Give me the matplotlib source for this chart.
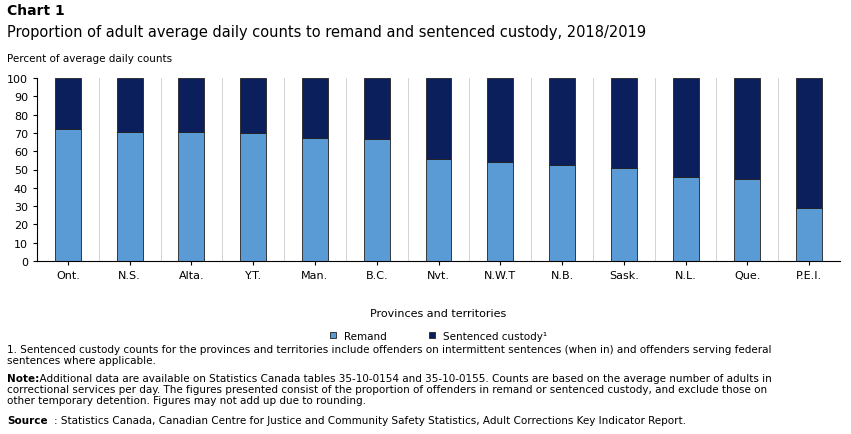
import matplotlib.pyplot as plt
import numpy as np

provinces = ["Ont.", "N.S.", "Alta.", "Y.T.", "Man.", "B.C.", "Nvt.", "N.W.T", "N.B.", "Sask.", "N.L.", "Que.", "P.E.I."]
remand = [72, 70.5, 70.5, 70, 67, 66.7, 56, 54, 52.5, 51, 46, 45, 29]
sentenced = [100 - r for r in remand]
yticks = list(range(0, 101, 10))

plt.rcParams["font.family"] = ["Verdana", "DejaVu Sans"]
fig = plt.figure(figsize=(8.51, 4.35), dpi=100)
ax = fig.add_axes([37 / 851, 1 - 262 / 435, 803 / 851, 183 / 435])

x = np.arange(len(provinces))
ax.bar(x, remand, width=0.42, color="#5b9bd5", edgecolor="#222222", linewidth=0.6, label="Remand")
ax.bar(x, sentenced, bottom=remand, width=0.42, color="#0b1f5c", edgecolor="#222222",
       linewidth=0.6, label="Sentenced custody\u00b9")

ax.set_xlim(-0.5, len(provinces) - 0.5)
ax.set_ylim(0, 100)
ax.set_yticks(yticks)
ax.set_xticks(x)
ax.set_xticklabels(provinces)
ax.tick_params(labelsize=8, length=3)
for xv in np.arange(-0.5, len(provinces), 1):
    ax.axvline(xv, color="#cccccc", linewidth=0.6, zorder=0)
for s in ["top", "right"]:
    ax.spines[s].set_visible(False)
ax.set_xlabel("Provinces and territories", fontsize=8, labelpad=20)

fig.text(0.008, 0.965, "Chart 1", fontsize=10, weight="bold")
fig.text(0.008, 0.915, "Proportion of adult average daily counts to remand and sentenced custody, 2018/2019", fontsize=10.5)
fig.text(0.008, 0.858, "Percent of average daily counts", fontsize=7.5)

ax.legend(loc="upper center", bbox_to_anchor=(0.5, -0.33), ncol=2, frameon=False, fontsize=7.5,
          handlelength=0.6, handleheight=0.6, columnspacing=4)

def top(py):
    return 1 - py / 435

fig.text(0.008, top(345), "1. Sentenced custody counts for the provinces and territories include offenders on intermittent sentences (when in) and offenders serving federal\n"
         "sentences where applicable.", fontsize=7.5, va="top", linespacing=1.15)
fig.text(0.008, top(374), "Note:", fontsize=7.5, weight="bold", va="top")
fig.text(0.008, top(374), "          Additional data are available on Statistics Canada tables 35-10-0154 and 35-10-0155. Counts are based on the average number of adults in\n"
         "correctional services per day. The figures presented consist of the proportion of offenders in remand or sentenced custody, and exclude those on\n"
         "other temporary detention. Figures may not add up due to rounding.", fontsize=7.5, va="top", linespacing=1.15)
fig.text(0.008, top(416), "Source", fontsize=7.5, weight="bold", va="top")
fig.text(0.063, top(416), ": Statistics Canada, Canadian Centre for Justice and Community Safety Statistics, Adult Corrections Key Indicator Report.",
         fontsize=7.5, va="top")

fig.savefig("out.png", dpi=100)
